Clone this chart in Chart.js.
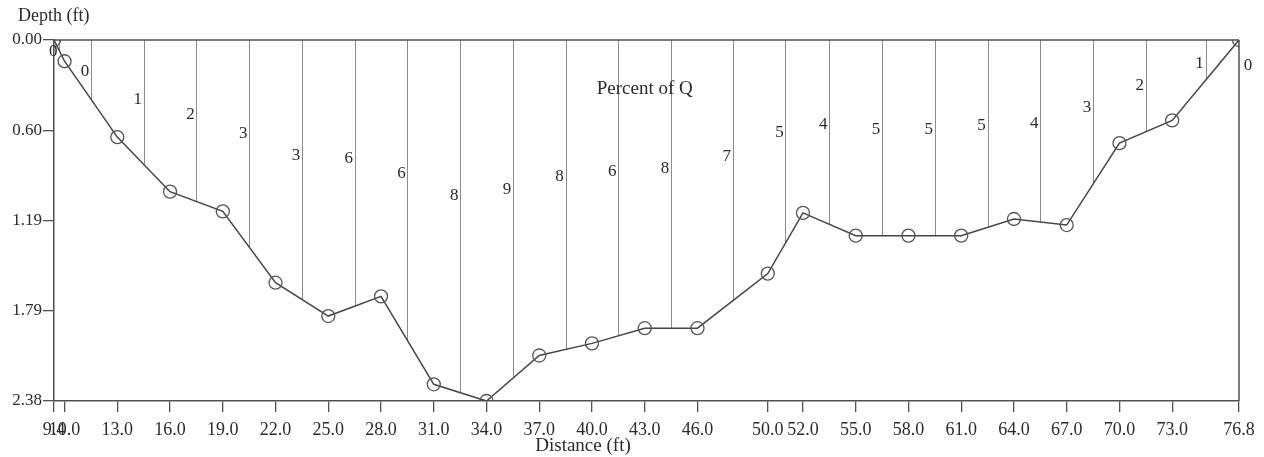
<!DOCTYPE html>
<html>
<head>
<meta charset="utf-8">
<script src="https://cdn.jsdelivr.net/npm/chart.js@4.4.1/dist/chart.umd.min.js"></script>
<style>
  html, body { margin: 0; padding: 0; background: #fff; }
  #wrap { width: 1264px; height: 457px; }
</style>
</head>
<body>
<div id="wrap"><canvas id="chart"></canvas></div>
<script>
  // Station distances (ft) and measured depths (ft) along the section
  const stations = [9.4, 10.0, 13.0, 16.0, 19.0, 22.0, 25.0, 28.0, 31.0, 34.0, 37.0, 40.0,
                    43.0, 46.0, 50.0, 52.0, 55.0, 58.0, 61.0, 64.0, 67.0, 70.0, 73.0, 76.8];
  const depths = [0.00, 0.14, 0.64, 1.00, 1.13, 1.60, 1.82, 1.69, 2.27, 2.38, 2.08, 2.00,
                  1.90, 1.90, 1.54, 1.14, 1.29, 1.29, 1.29, 1.18, 1.22, 0.68, 0.53, 0.00];
  // Percent of total discharge carried by each station's subsection
  const percentQ = [0, 0, 1, 2, 3, 3, 6, 6, 8, 9, 8, 6, 8, 7, 5, 4, 5, 5, 5, 4, 3, 2, 1, 0];

  const xTickLabels = stations.map((s) => s.toFixed(1));
  const yTicks = [0, 0.595, 1.19, 1.785, 2.38];
  const yTickLabels = ["0.00", "0.60", "1.19", "1.79", "2.38"];

  const FONT = "'Liberation Serif', 'DejaVu Serif', serif";
  const INK = "#2b2b2b";
  const AXIS = "#505050";
  const VERT = "#8c8c8c";

  const overlay = {
    id: "overlay",
    beforeDatasetsDraw(chart) {
      const { ctx, chartArea: a, scales: { x, y } } = chart;
      const top = y.getPixelForValue(0);
      ctx.save();
      // subsection boundaries: midway between stations, surface to bed
      ctx.strokeStyle = VERT;
      ctx.lineWidth = 1;
      for (let i = 0; i < stations.length - 1; i++) {
        const b = (stations[i] + stations[i + 1]) / 2;
        const d = (depths[i] + depths[i + 1]) / 2;
        const px = Math.round(x.getPixelForValue(b)) + 0.5;
        ctx.beginPath();
        ctx.moveTo(px, top);
        ctx.lineTo(px, y.getPixelForValue(d));
        ctx.stroke();
      }
      // water surface and right bank
      ctx.strokeStyle = AXIS;
      ctx.lineWidth = 1.5;
      ctx.beginPath();
      ctx.moveTo(a.left, top);
      ctx.lineTo(a.right, top);
      ctx.moveTo(a.right, top);
      ctx.lineTo(a.right, a.bottom);
      ctx.stroke();
      ctx.restore();
    },
    afterDatasetsDraw(chart) {
      const { ctx, scales: { x, y } } = chart;
      const top = y.getPixelForValue(0);
      ctx.save();
      ctx.fillStyle = INK;
      ctx.font = "17px " + FONT;
      ctx.textAlign = "center";
      ctx.textBaseline = "middle";
      const n = stations.length;
      for (let i = 0; i < n; i++) {
        let px, py;
        if (i < n - 1) {
          const b = (stations[i] + stations[i + 1]) / 2;
          const d = (depths[i] + depths[i + 1]) / 2;
          px = x.getPixelForValue(b) - 6;
          py = top + 0.42 * (y.getPixelForValue(d) - top) + 7;
        } else {
          px = x.getPixelForValue(stations[i]) + 9;
          py = top + 26;
        }
        ctx.fillText(String(percentQ[i]), px, py);
      }
      ctx.font = "19px " + FONT;
      ctx.fillText("Percent of Q", x.getPixelForValue(43.0), y.getPixelForValue(0.32));
      // axis titles
      ctx.font = "18px " + FONT;
      ctx.textAlign = "left";
      ctx.fillText("Depth (ft)", 18, 16);
      ctx.textAlign = "center";
      ctx.font = "19px " + FONT;
      ctx.fillText("Distance (ft)", 583, 446);
      ctx.restore();
    }
  };

  new Chart(document.getElementById("chart"), {
    type: "line",
    data: {
      datasets: [{
        data: stations.map((s, i) => ({ x: s, y: depths[i] })),
        borderColor: "#454545",
        borderWidth: 1.5,
        pointRadius: 6.5,
        pointBorderWidth: 1.3,
        pointBorderColor: "#555555",
        pointBackgroundColor: "rgba(255,255,255,0)",
        tension: 0,
        fill: false,
      }],
    },
    options: {
      responsive: true,
      maintainAspectRatio: false,
      animation: false,
      layout: { padding: { top: 40, right: 25, left: 0, bottom: 0 } },
      plugins: { legend: { display: false }, tooltip: { enabled: false } },
      scales: {
        x: {
          type: "linear",
          min: 9.4,
          max: 76.8,
          afterBuildTicks: (s) => { s.ticks = stations.map((v) => ({ value: v })); },
          afterFit: (s) => { s.height = 56; },
          grid: { drawOnChartArea: false, drawTicks: true, tickLength: 11, tickColor: AXIS, lineWidth: 1.3 },
          border: { display: true, color: AXIS, width: 1.5 },
          ticks: {
            autoSkip: false,
            maxRotation: 0,
            padding: 7,
            color: INK,
            font: { family: FONT, size: 18 },
            callback: (v, i) => xTickLabels[i],
          },
        },
        y: {
          reverse: true,
          min: 0,
          max: 2.38,
          afterBuildTicks: (s) => { s.ticks = yTicks.map((v) => ({ value: v })); },
          afterFit: (s) => { s.width = 54; },
          grid: { drawOnChartArea: false, drawTicks: true, tickLength: 11, tickColor: AXIS, lineWidth: 1.3 },
          border: { display: true, color: AXIS, width: 1.5 },
          ticks: {
            autoSkip: false,
            padding: 1,
            color: INK,
            font: { family: FONT, size: 17 },
            callback: (v, i) => yTickLabels[i],
          },
        },
      },
    },
    plugins: [overlay],
  });
</script>
</body>
</html>
